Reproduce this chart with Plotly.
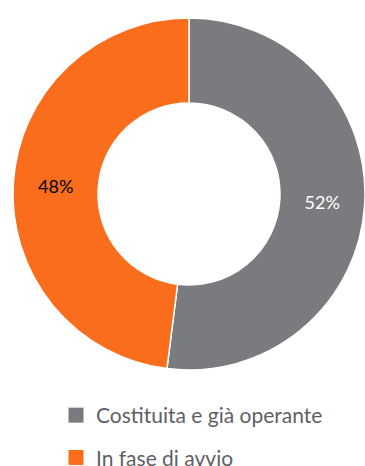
import plotly.graph_objects as go

# Share of organisations by status (percent)
categories = ["Costituita e già operante", "In fase di avvio"]
values = [52, 48]
colors = ["#7a7b7f", "#f96d1c"]
text_colors = ["#ffffff", "#000000"]

W, H = 365, 466
FONT = "Lato"

fig = go.Figure()

fig.add_trace(go.Pie(
    labels=categories,
    values=values,
    hole=0.517,
    sort=False,
    direction="clockwise",
    rotation=0,
    marker=dict(colors=colors, line=dict(color="#ffffff", width=1.5)),
    texttemplate="%{value}%",
    textposition="inside",
    insidetextorientation="horizontal",
    insidetextfont=dict(family=FONT, size=18, color=text_colors),
    showlegend=False,
    hoverinfo="label+percent",
    domain=dict(x=[13 / W, 1.0], y=[(H - 373) / H, (H - 15) / H]),
))

# Legend entries with square swatches, one group per category
for name, col in zip(categories, colors):
    fig.add_trace(go.Scatter(
        x=[None], y=[None],
        mode="markers",
        name=name,
        legendgroup=name,
        marker=dict(symbol="square", size=15, color=col),
        hoverinfo="skip",
    ))

fig.update_layout(
    width=W,
    height=H,
    margin=dict(l=0, r=0, t=0, b=0, autoexpand=False),
    paper_bgcolor="#ffffff",
    plot_bgcolor="#ffffff",
    xaxis=dict(visible=False),
    yaxis=dict(visible=False),
    showlegend=True,
    legend=dict(
        orientation="v",
        x=56 / W,
        xanchor="left",
        xref="container",
        y=1 - 395 / H,
        yanchor="top",
        yref="container",
        font=dict(family=FONT, size=21, color="#5f6064"),
        tracegroupgap=12,
        itemsizing="trace",
        bgcolor="rgba(0,0,0,0)",
    ),
)

fig.write_html("out.html")
